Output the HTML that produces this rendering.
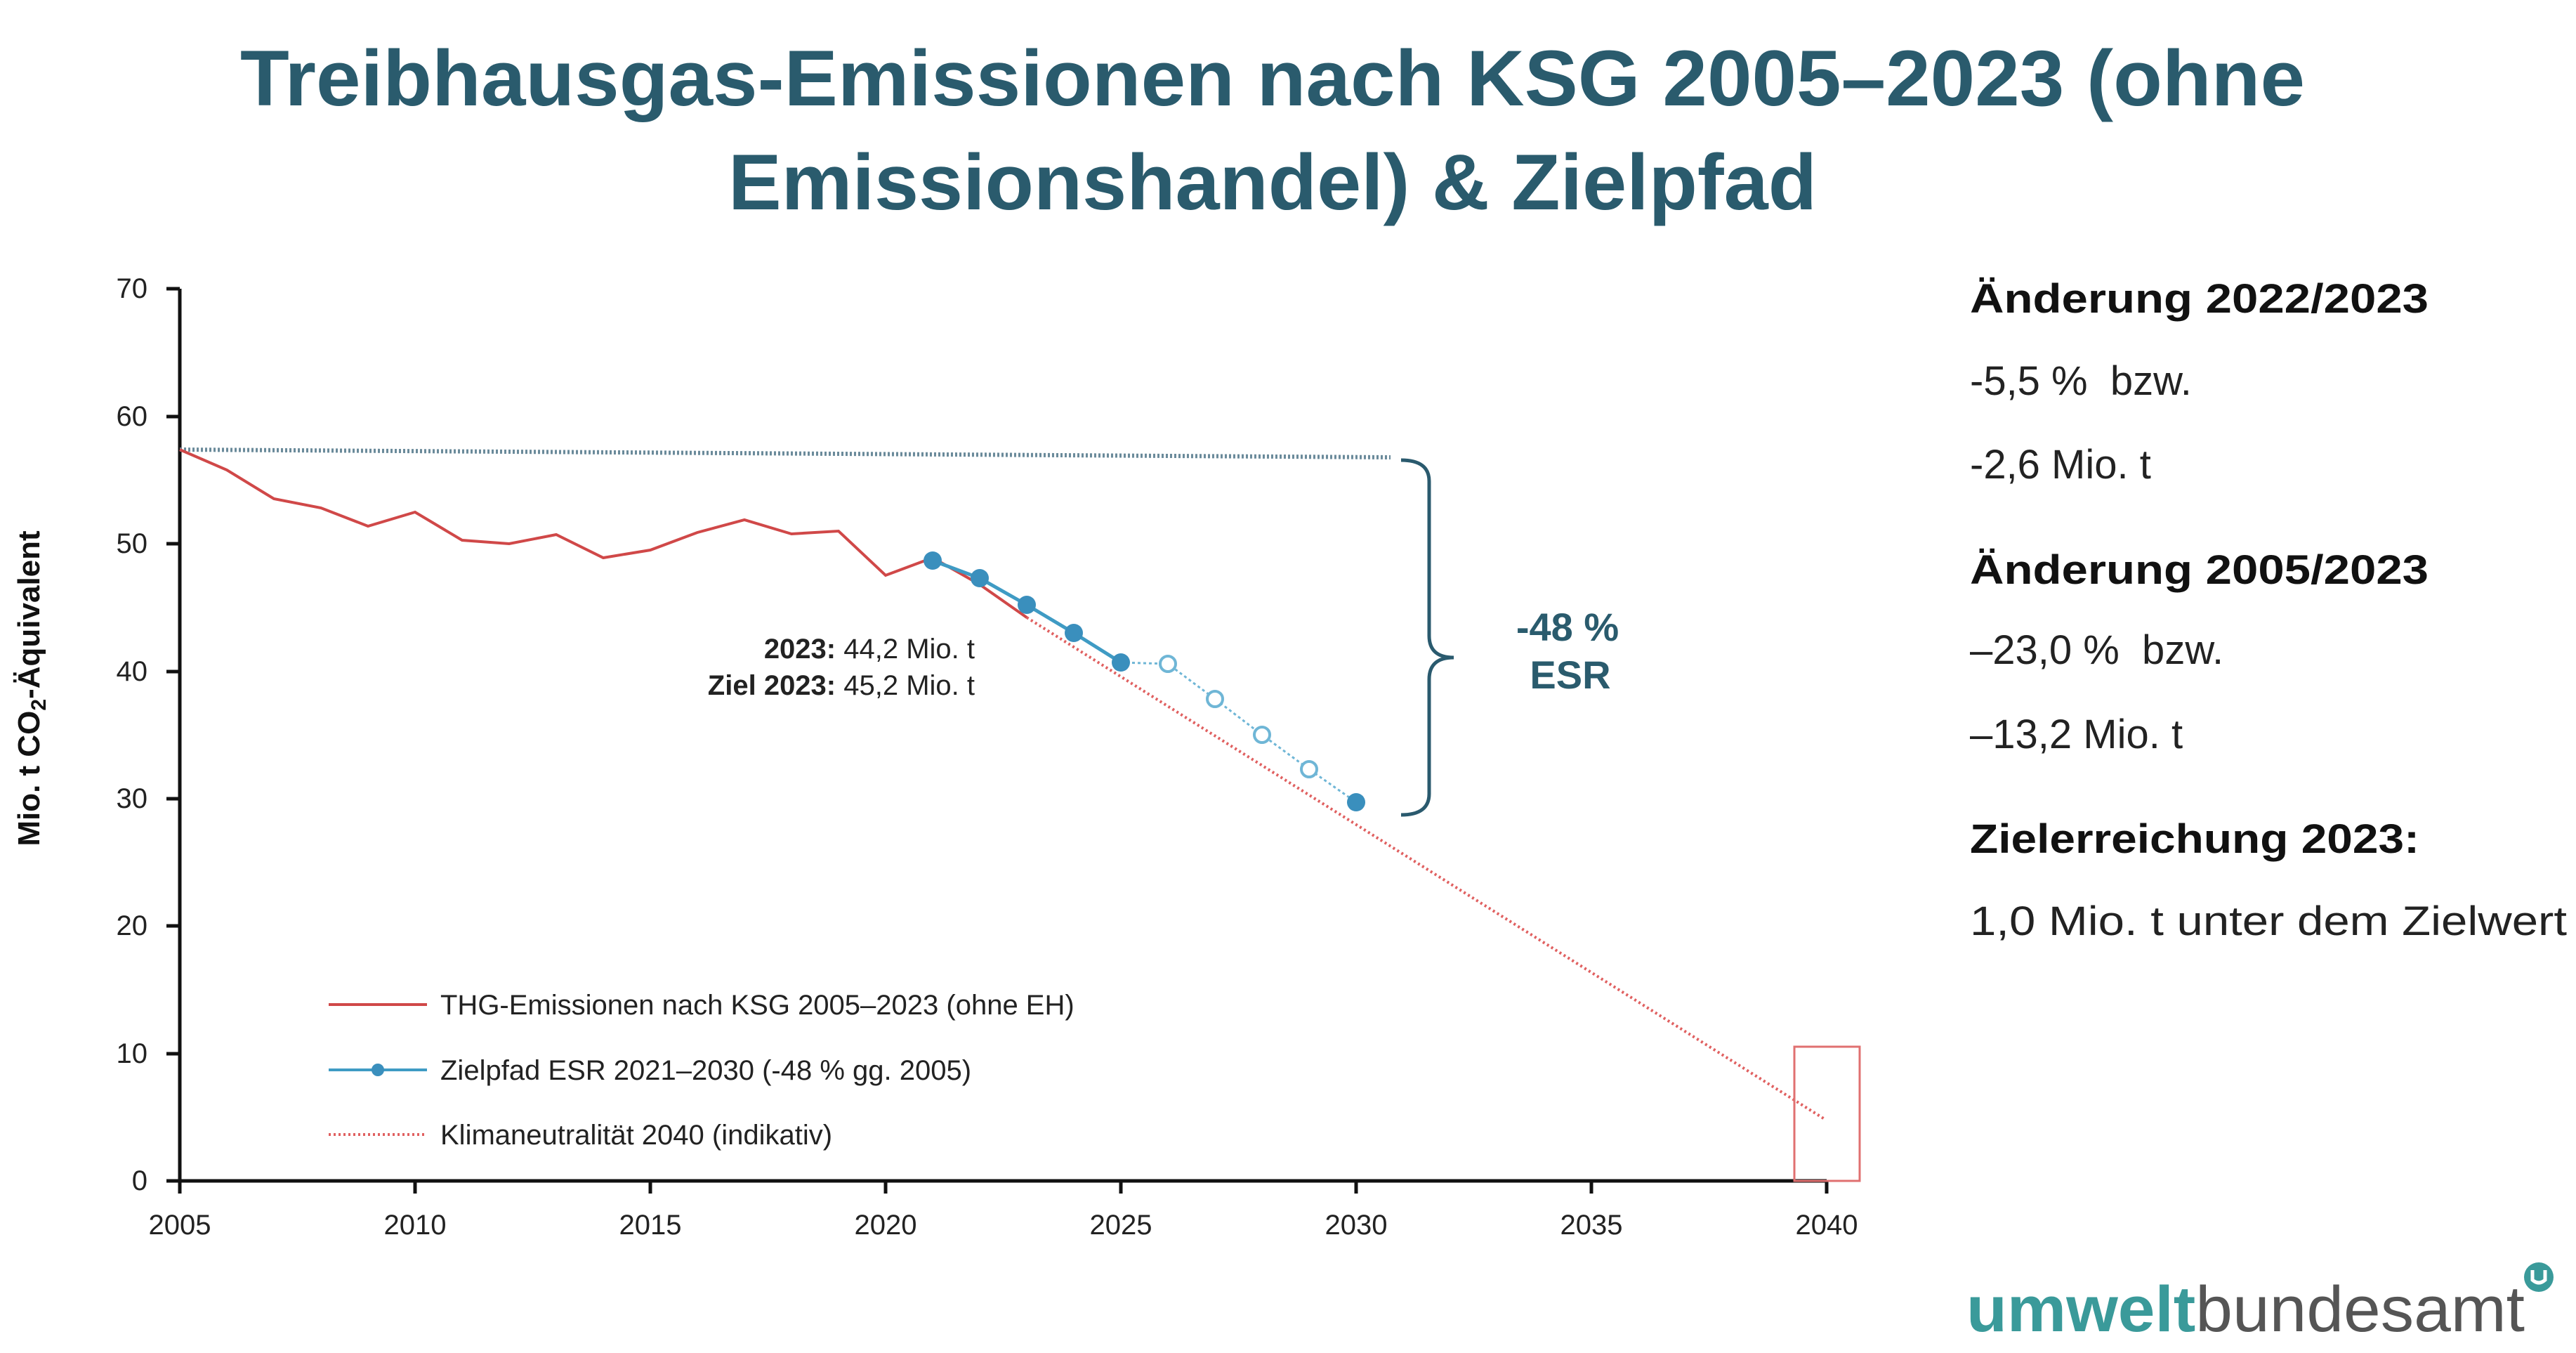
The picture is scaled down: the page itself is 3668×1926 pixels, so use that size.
<!DOCTYPE html>
<html><head><meta charset="utf-8"><style>
html,body{margin:0;padding:0;background:#fff;}
svg{display:block;}
text{font-family:"Liberation Sans",sans-serif;}
</style></head><body>
<svg width="3668" height="1926" viewBox="0 0 3668 1926" xmlns="http://www.w3.org/2000/svg">
<rect width="3668" height="1926" fill="#fff"/>
<g fill="#2a5b6d" font-size="112" font-weight="bold" text-anchor="middle">
<text x="1812" y="150" textLength="2940" lengthAdjust="spacingAndGlyphs">Treibhausgas-Emissionen nach KSG 2005–2023  (ohne</text>
<text x="1812" y="298" textLength="1550" lengthAdjust="spacingAndGlyphs">Emissionshandel) &amp; Zielpfad</text>
</g>
<g stroke="#111" stroke-width="5" fill="none">
<line x1="256" y1="411" x2="256" y2="1699"/>
<line x1="237" y1="1681" x2="2601" y2="1681"/>
<line x1="237" y1="411" x2="256" y2="411"/>
<line x1="237" y1="593" x2="256" y2="593"/>
<line x1="237" y1="774" x2="256" y2="774"/>
<line x1="237" y1="956" x2="256" y2="956"/>
<line x1="237" y1="1137" x2="256" y2="1137"/>
<line x1="237" y1="1318" x2="256" y2="1318"/>
<line x1="237" y1="1500" x2="256" y2="1500"/>
<line x1="591" y1="1681" x2="591" y2="1699"/>
<line x1="926" y1="1681" x2="926" y2="1699"/>
<line x1="1261" y1="1681" x2="1261" y2="1699"/>
<line x1="1596" y1="1681" x2="1596" y2="1699"/>
<line x1="1931" y1="1681" x2="1931" y2="1699"/>
<line x1="2266" y1="1681" x2="2266" y2="1699"/>
<line x1="2601" y1="1681" x2="2601" y2="1699"/>
</g>
<g font-size="40" fill="#222" text-anchor="end">
<text x="210" y="424">70</text><text x="210" y="606">60</text><text x="210" y="787">50</text>
<text x="210" y="969">40</text><text x="210" y="1150">30</text><text x="210" y="1331">20</text>
<text x="210" y="1513">10</text><text x="210" y="1694">0</text>
</g>
<g font-size="40" fill="#222" text-anchor="middle">
<text x="256" y="1757">2005</text><text x="591" y="1757">2010</text><text x="926" y="1757">2015</text>
<text x="1261" y="1757">2020</text><text x="1596" y="1757">2025</text><text x="1931" y="1757">2030</text>
<text x="2266" y="1757">2035</text><text x="2601" y="1757">2040</text>
</g>
<text transform="translate(56,980) rotate(-90)" font-size="44" font-weight="bold" fill="#111" text-anchor="middle">Mio. t CO<tspan font-size="30" dy="9">2</tspan><tspan dy="-9">-Äquivalent</tspan></text>
<line x1="256" y1="640" x2="1980" y2="651" stroke="#6a8a9a" stroke-width="6" stroke-dasharray="3,3"/>
<line x1="1462" y1="879" x2="2598" y2="1593" stroke="#e06060" stroke-width="4" stroke-dasharray="3,4"/>
<rect x="2555" y="1490" width="93" height="191" fill="none" stroke="#e07070" stroke-width="3"/>
<polyline fill="none" stroke="#d04848" stroke-width="4" points="256,640 323,669 390,710 457,723 524,749 591,729 658,769 725,774 792,761 859,794 926,783 993,758 1060,740 1127,760 1194,756 1261,819 1328,794 1395,832 1462,879"/>
<polyline fill="none" stroke="#3f9bc4" stroke-width="5" points="1328,798 1395,823 1462,861 1529,901 1596,943"/>
<polyline fill="none" stroke="#6fb6d6" stroke-width="3" stroke-dasharray="4,4" points="1596,943 1663,945 1730,995 1797,1046 1864,1095 1931,1142"/>
<g fill="#3a8fbd">
<circle cx="1328" cy="798" r="13"/><circle cx="1395" cy="823" r="13"/><circle cx="1462" cy="861" r="13"/>
<circle cx="1529" cy="901" r="13"/><circle cx="1596" cy="943" r="13"/><circle cx="1931" cy="1142" r="13"/>
</g>
<g fill="#fff" stroke="#6fb6d6" stroke-width="4">
<circle cx="1663" cy="945" r="11"/><circle cx="1730" cy="995" r="11"/><circle cx="1797" cy="1046" r="11"/><circle cx="1864" cy="1095" r="11"/>
</g>
<path d="M1995,655 Q2035,655 2035,685 L2035,905 Q2035,936 2070,936 Q2035,936 2035,967 L2035,1130 Q2035,1160 1995,1160" fill="none" stroke="#2a5a6e" stroke-width="5"/>
<g fill="#2a5b6d" font-size="56" font-weight="bold" text-anchor="middle">
<text x="2232" y="912">-48 %</text><text x="2236" y="980">ESR</text>
</g>
<g font-size="40" fill="#222" text-anchor="end">
<text x="1388" y="937"><tspan font-weight="bold">2023:</tspan> 44,2 Mio. t</text>
<text x="1388" y="989"><tspan font-weight="bold">Ziel 2023:</tspan>  45,2 Mio. t</text>
</g>
<line x1="468" y1="1430" x2="608" y2="1430" stroke="#d04848" stroke-width="4"/>
<line x1="468" y1="1523" x2="608" y2="1523" stroke="#3f9bc4" stroke-width="4"/>
<circle cx="538" cy="1523" r="9" fill="#3a8fbd"/>
<line x1="468" y1="1615" x2="608" y2="1615" stroke="#e06060" stroke-width="4" stroke-dasharray="3,4"/>
<g font-size="40" fill="#222">
<text x="627" y="1444">THG-Emissionen nach KSG 2005–2023 (ohne EH)</text>
<text x="627" y="1537">Zielpfad ESR 2021–2030 (-48 % gg. 2005)</text>
<text x="627" y="1629">Klimaneutralität 2040 (indikativ)</text>
</g>
<g font-size="58" fill="#111">
<text x="2805" y="445" font-weight="bold" textLength="653" lengthAdjust="spacingAndGlyphs">Änderung 2022/2023</text>
<text x="2805" y="562" fill="#222" xml:space="preserve">-5,5 %  bzw.</text>
<text x="2805" y="681" fill="#222">-2,6 Mio.  t</text>
<text x="2805" y="831" font-weight="bold" textLength="653" lengthAdjust="spacingAndGlyphs">Änderung 2005/2023</text>
<text x="2805" y="945" fill="#222" xml:space="preserve">–23,0 %  bzw.</text>
<text x="2805" y="1065" fill="#222">–13,2 Mio.  t</text>
<text x="2805" y="1214" font-weight="bold" textLength="640" lengthAdjust="spacingAndGlyphs">Zielerreichung 2023:</text>
<text x="2805" y="1331" fill="#222" textLength="850" lengthAdjust="spacingAndGlyphs">1,0 Mio. t unter dem Zielwert</text>
</g>
<text x="2800" y="1895" font-size="92" textLength="795" lengthAdjust="spacingAndGlyphs"><tspan fill="#3a9a9a" font-weight="bold">umwelt</tspan><tspan fill="#555">bundesamt</tspan></text>
<circle cx="3615" cy="1818" r="21" fill="#3a9a9a"/>
<path d="M3606,1808 L3606,1822 Q3615,1830 3624,1822 L3624,1808" fill="none" stroke="#fff" stroke-width="5"/>
</svg>
</body></html>
